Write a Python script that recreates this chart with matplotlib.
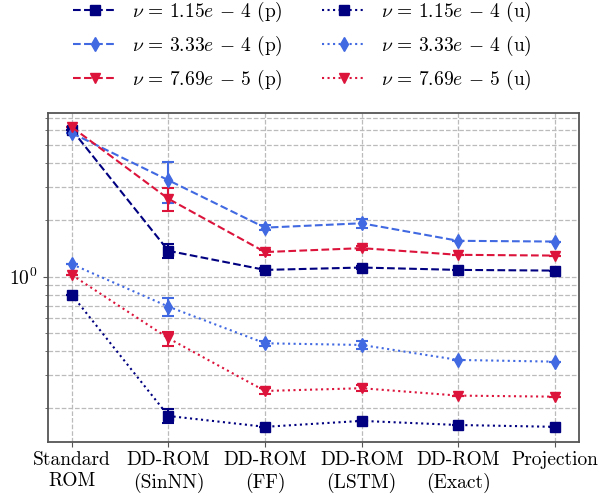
import numpy as np
import matplotlib
matplotlib.use('Agg')
import matplotlib.pyplot as plt
import matplotlib.ticker as mticker
from matplotlib.lines import Line2D

plt.rcParams['font.family'] = 'serif'
plt.rcParams['font.serif'] = ['cmr10', 'DejaVu Serif']
plt.rcParams['mathtext.fontset'] = 'cm'
plt.rcParams['axes.formatter.use_mathtext'] = True

# categorias del eje x
metodos = ['Standard\nROM', 'DD-ROM\n(SinNN)', 'DD-ROM\n(FF)', 'DD-ROM\n(LSTM)',
           'DD-ROM\n(Exact)', 'Projection']

# errores (p): valores medios y barras de error
p_115 = [6.03, 1.37, 1.085, 1.117, 1.085, 1.076]
p_115_err = [0.0, 0.12, 0.02, 0.02, 0.0, 0.0]
p_333 = [5.79, 3.25, 1.82, 1.92, 1.549, 1.535]
p_333_err = [0.0, 0.79, 0.05, 0.10, 0.0, 0.0]
p_769 = [6.23, 2.59, 1.35, 1.416, 1.305, 1.293]
p_769_err = [0.0, 0.35, 0.04, 0.04, 0.0, 0.0]

# errores (u)
u_115 = [0.80, 0.1816, 0.159, 0.171, 0.1626, 0.159]
u_115_err = [0.0, 0.015, 0.0, 0.0, 0.0, 0.0]
u_333 = [1.164, 0.692, 0.442, 0.433, 0.3605, 0.353]
u_333_err = [0.0, 0.077, 0.015, 0.02, 0.0, 0.0]
u_769 = [1.02, 0.47, 0.2466, 0.255, 0.233, 0.23]
u_769_err = [0.0, 0.04, 0.01, 0.01, 0.0, 0.0]

nus = ['1.15e\\,-\\,4', '3.33e\\,-\\,4', '7.69e\\,-\\,5']
etiquetas = [r'$\nu\,=\,' + n + '$ (p)' for n in nus] + \
            [r'$\nu\,=\,' + n + '$ (u)' for n in nus]

colores = ['#000080', '#4169E1', '#DC143C']
marcadores = ['s', 'd', 'v']

fig = plt.figure(figsize=(5.99, 4.98), dpi=100)
ax = fig.add_axes([0.0796, 0.1130, 0.887, 0.6607])

x = np.arange(len(metodos))
series = [(p_115, p_115_err), (p_333, p_333_err), (p_769, p_769_err)]
series_u = [(u_115, u_115_err), (u_333, u_333_err), (u_769, u_769_err)]

handles = []
for estilo, datos in [('--', series), (':', series_u)]:
    for i, (val, err) in enumerate(datos):
        ax.errorbar(x, val, yerr=err, color=colores[i], marker=marcadores[i],
                    linestyle=estilo, markersize=7, capsize=4, elinewidth=1.5,
                    capthick=1.5, linewidth=1.5)
        handles.append(Line2D([], [], color=colores[i], marker=marcadores[i],
                              linestyle=estilo, markersize=7, linewidth=1.5))

ax.set_yscale('log')
ax.set_ylim(0.1325, 7.43)
ax.set_xlim(-0.25, 5.25)
ax.set_xticks(x)
ax.set_xticklabels(metodos, fontsize=14)
ax.yaxis.set_minor_formatter(mticker.NullFormatter())
ax.tick_params(axis='y', labelsize=14)
ax.tick_params(colors='#555555', labelcolor='black', which='both')
ax.grid(True, which='both', linestyle='--', color='#bbbbbb', linewidth=0.9)
ax.set_axisbelow(True)
for s in ax.spines.values():
    s.set_color('#555555')
    s.set_linewidth(1.3)

fig.legend(handles, etiquetas, ncol=2, loc='center', frameon=False, fontsize=14,
           handlelength=2.25, bbox_to_anchor=(0.505, 1 - 46 / 498))

plt.savefig('out.png', dpi=100)
